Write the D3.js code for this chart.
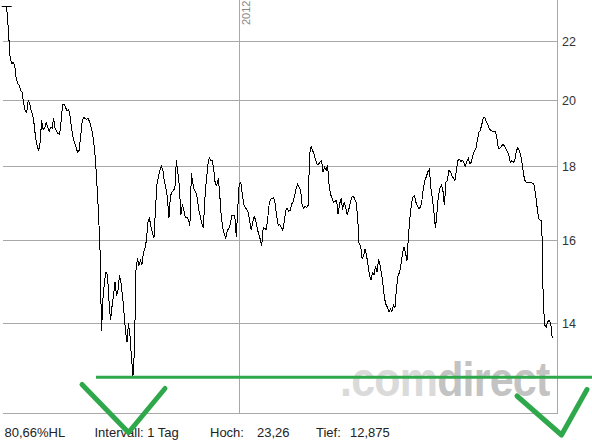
<!DOCTYPE html>
<html><head><meta charset="utf-8">
<script src="https://cdn.jsdelivr.net/npm/d3@7"></script>
<style>
html,body{margin:0;padding:0;background:#fff;}
svg{display:block;font-family:"Liberation Sans",Arial,sans-serif;}
</style></head>
<body>
<svg id="chart" width="592" height="442"></svg>
<script>
// ---- data (daily closes, starting 2011-07-29) ----
const startDate = new Date(2011, 6, 29);
const closes = [
23.26,23.03,22.19,21.39,21.22,21.25,21.16,20.72,20.55,20.49,
20.33,20.26,19.90,19.66,19.62,20.00,19.90,19.69,19.56,19.25,
18.82,18.61,18.46,18.70,19.37,19.10,19.13,19.31,19.19,19.04,
19.16,19.13,19.43,19.13,19.04,18.97,18.94,19.34,19.87,19.87,
19.78,19.66,19.72,19.50,19.13,18.85,18.70,18.55,18.41,18.46,
18.85,19.31,19.47,19.43,19.40,19.43,19.34,19.16,18.97,18.61,
18.17,17.43,16.69,15.73,13.84,14.59,14.98,15.19,15.12,14.52,
14.07,14.38,14.64,14.95,14.64,14.76,15.12,14.93,14.64,14.25,
13.84,13.58,14.00,13.73,13.26,12.875,13.41,15.24,15.53,15.36,
15.48,15.38,15.68,15.79,15.99,16.46,16.56,16.35,16.20,16.04,
16.77,17.49,17.71,17.88,18.00,17.88,17.57,17.38,17.13,16.56,
17.16,17.27,17.32,17.38,18.17,17.80,17.43,16.64,16.94,16.77,
16.59,16.59,16.54,16.35,17.80,17.52,17.32,17.27,17.10,16.77,
16.61,16.43,16.30,17.08,17.60,18.03,18.26,18.17,18.17,17.88,
17.49,17.46,17.66,17.18,16.59,16.32,16.14,16.04,16.25,16.30,
16.41,16.64,16.64,16.64,16.07,16.83,17.52,17.54,17.21,16.94,
16.85,16.80,16.72,16.48,16.25,16.46,16.61,16.51,16.30,16.14,
16.02,15.86,16.32,16.30,16.27,16.56,16.96,17.08,17.10,17.13,
16.96,16.61,16.38,16.41,16.32,16.25,16.46,16.77,16.83,16.75,
16.77,16.94,17.02,17.18,17.38,17.49,17.40,17.32,16.91,16.83,
16.88,16.85,16.91,18.38,18.58,18.46,18.35,18.17,18.06,18.06,
18.14,18.17,17.83,17.97,17.88,18.03,17.46,17.21,17.10,16.99,
17.02,17.05,16.67,16.94,17.10,16.80,16.99,16.88,16.67,16.77,
16.96,17.13,17.16,17.10,16.99,16.64,15.89,15.86,15.53,15.58,
15.76,15.61,15.36,15.12,15.00,15.19,15.14,15.34,15.19,15.51,
15.36,15.17,14.88,14.57,14.43,14.36,14.27,14.32,14.27,14.41,
14.36,14.81,15.10,15.19,15.38,15.66,15.81,15.68,15.48,16.12,
16.59,16.96,17.13,17.18,16.99,16.88,16.83,16.85,17.05,17.40,
17.60,17.71,17.85,17.91,17.38,17.08,16.72,16.30,16.69,17.18,
17.38,17.46,17.32,16.91,17.54,17.60,17.88,17.85,17.74,17.66,
17.60,17.88,18.17,18.20,18.14,18.17,18.11,18.00,18.14,18.23,
18.08,18.11,18.32,18.43,18.52,18.76,19.00,19.07,19.25,19.47,
19.47,19.31,19.25,19.10,19.07,19.04,19.04,19.04,18.85,18.52,
18.52,18.58,18.64,18.61,18.52,18.43,18.32,18.11,18.17,18.11,
18.17,18.43,18.55,18.46,18.32,18.06,17.74,17.57,17.54,17.54,
17.54,17.54,17.52,17.46,17.18,16.83,16.56,16.51,16.51,14.52,
13.96,13.91,14.04,14.07,14.00,13.67
];
const yTicks = [14, 16, 18, 20, 22];
const yearMarks = [new Date(2012, 0, 1)];
const yearLabels = ["2012"];
const highValue = 23.26;
const lowValue = 12.875;
const footer = [
  {text: "80,66%HL"}, {text: "Intervall: 1 Tag"},
  {text: "Hoch:"}, {text: "23,26"}, {text: "Tief:"}, {text: "12,875"}
];

// ---- layout ----
const W = 592, H = 442;
const plotLeft = 3, plotRight = 557, plotTop = 0, plotBottom = 413;
const gridColor = "#a8a8a8";
const green = "#2ea84b";

const svg = d3.select("#chart");
const dates = closes.map((_, i) => d3.timeDay.offset(startDate, i));

const x = d3.scaleTime()
  .domain([startDate, d3.timeDay.offset(startDate, 366)])
  .range([5.7, 553.7]);
const y = d3.scaleLog()
  .domain([12.12, 23.47])
  .range([413.5, 0.5]);

const crisp = v => Math.round(v) + 0.5;

// watermark
const wm = svg.append("text")
  .attr("transform", "translate(340,396) scale(1,1.1)")
  .attr("font-size", 43).attr("font-weight", "bold")
  .attr("letter-spacing", -0.8)
  .attr("font-family", "'Liberation Sans', Arial, sans-serif");
wm.append("tspan").attr("fill", "#dadada").text(".com");
wm.append("tspan").attr("fill", "#c3c3c3").text("direct");

// horizontal grid
svg.append("g").selectAll("line").data(yTicks).join("line")
  .attr("x1", plotLeft).attr("x2", plotRight)
  .attr("y1", d => crisp(y(d))).attr("y2", d => crisp(y(d)))
  .attr("stroke", gridColor).attr("stroke-width", 1);

// vertical year line
svg.append("g").selectAll("line").data(yearMarks).join("line")
  .attr("x1", d => Math.floor(x(d)) + 0.5).attr("x2", d => Math.floor(x(d)) + 0.5)
  .attr("y1", plotTop).attr("y2", plotBottom)
  .attr("stroke", gridColor).attr("stroke-width", 1);

svg.append("g").selectAll("text").data(yearMarks).join("text")
  .attr("transform", d => `translate(${Math.floor(x(d)) + 11},25) rotate(-90)`)
  .attr("font-size", 11).attr("fill", "#888")
  .text((d, i) => yearLabels[i]);

// frame: right and bottom
svg.append("line").attr("x1", plotRight + 0.5).attr("x2", plotRight + 0.5)
  .attr("y1", plotTop).attr("y2", plotBottom + 1)
  .attr("stroke", gridColor);
svg.append("line").attr("x1", plotLeft).attr("x2", plotRight + 1)
  .attr("y1", plotBottom + 0.5).attr("y2", plotBottom + 0.5)
  .attr("stroke", gridColor);

// right axis labels
svg.append("g").selectAll("text").data(yTicks).join("text")
  .attr("x", 562).attr("y", d => crisp(y(d)))
  .attr("dy", "0.35em")
  .attr("font-size", 12.5).attr("fill", "#333")
  .text(d => d);

// price line
const line = d3.line()
  .x((d, i) => x(dates[i]))
  .y(d => y(d));
svg.append("path").datum(closes)
  .attr("d", line)
  .attr("fill", "none").attr("stroke", "#000").attr("stroke-width", 1)
  .attr("shape-rendering", "crispEdges");

// high marker
svg.append("line")
  .attr("x1", x(dates[0]) - 4).attr("x2", x(dates[0]) + 6)
  .attr("y1", crisp(y(highValue))).attr("y2", crisp(y(highValue)))
  .attr("stroke", "#000").attr("stroke-width", 1);

// footer text
const fx = [4.5, 94.5, 210, 257, 316, 350];
svg.append("g").selectAll("text").data(footer).join("text")
  .attr("x", (d, i) => fx[i]).attr("y", 437)
  .attr("font-size", 13).attr("fill", "#222")
  .text(d => d.text);

// green annotations (hand-drawn marks)
svg.append("line")
  .attr("x1", 96).attr("x2", W)
  .attr("y1", y(lowValue) + 1.5).attr("y2", y(lowValue) + 1.5)
  .attr("stroke", green).attr("stroke-width", 3);
const check = d3.line();
svg.append("path")
  .attr("d", check([[82, 384.5], [128.5, 432.5], [165, 388.5]]))
  .attr("fill", "none").attr("stroke", green).attr("stroke-width", 5)
  .attr("stroke-linecap", "round").attr("stroke-linejoin", "round");
svg.append("path")
  .attr("d", check([[517, 396], [561.5, 435], [587, 389.5]]))
  .attr("fill", "none").attr("stroke", green).attr("stroke-width", 5)
  .attr("stroke-linecap", "round").attr("stroke-linejoin", "round");
</script>
</body></html>
